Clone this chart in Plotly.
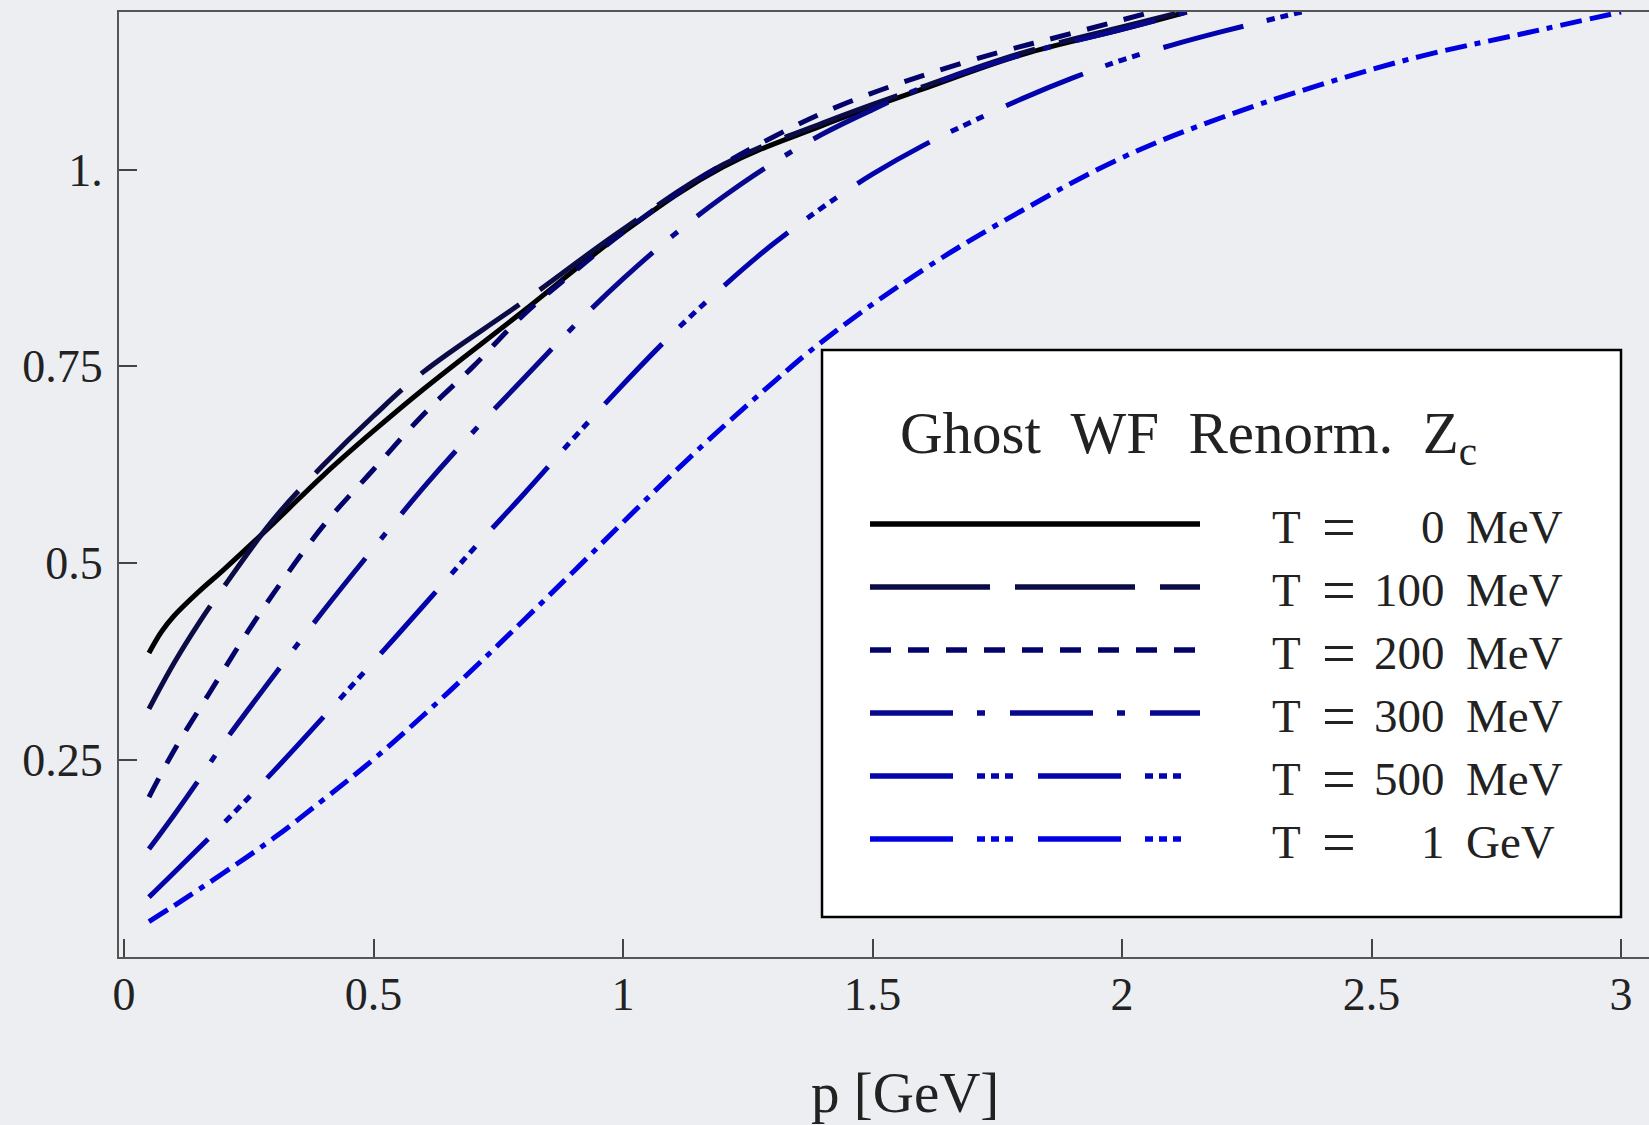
import plotly.graph_objects as go

# ---------------- data ----------------
p_T0 = [0.05, 0.075, 0.1, 0.15, 0.2, 0.3, 0.4, 0.5, 0.6, 0.8, 1.0, 1.2, 1.4, 1.6, 1.8, 2.0, 2.13]
z_T0 = [0.386, 0.413, 0.433, 0.464, 0.492, 0.551, 0.612, 0.668, 0.721, 0.820, 0.920, 1.003, 1.056, 1.102, 1.146, 1.178, 1.200]

p_T100 = [0.05, 0.1, 0.15, 0.2, 0.3, 0.4, 0.5, 0.6, 0.8, 1.0, 1.2, 1.4, 1.6, 1.8, 2.0, 2.12]
z_T100 = [0.315, 0.373, 0.424, 0.470, 0.556, 0.625, 0.687, 0.743, 0.832, 0.924, 1.006, 1.059, 1.105, 1.148, 1.181, 1.200]

p_T200 = [0.05, 0.1, 0.17, 0.25, 0.3, 0.4, 0.5, 0.6, 0.7, 0.8, 0.9, 1.0, 1.15, 1.3, 1.45, 1.7, 1.9, 2.06]
z_T200 = [0.203, 0.262, 0.334, 0.415, 0.462, 0.548, 0.619, 0.689, 0.750, 0.815, 0.869, 0.920, 0.987, 1.041, 1.085, 1.139, 1.173, 1.200]

p_T300 = [0.05, 0.1, 0.15, 0.2, 0.3, 0.4, 0.5, 0.6, 0.7, 0.8, 0.9, 1.0, 1.1, 1.2, 1.3, 1.4, 1.5, 1.6, 1.8, 2.0, 2.13]
z_T300 = [0.137, 0.180, 0.225, 0.272, 0.357, 0.440, 0.519, 0.596, 0.667, 0.734, 0.800, 0.861, 0.916, 0.965, 1.008, 1.045, 1.076, 1.104, 1.146, 1.178, 1.200]

p_T500 = [0.05, 0.1, 0.2, 0.3, 0.4, 0.5, 0.6, 0.7, 0.8, 0.9, 1.0, 1.1, 1.2, 1.3, 1.4, 1.5, 1.6, 1.7, 1.8, 1.9, 2.0, 2.1, 2.2, 2.36]
z_T500 = [0.076, 0.107, 0.170, 0.236, 0.305, 0.375, 0.446, 0.518, 0.587, 0.658, 0.727, 0.792, 0.851, 0.905, 0.952, 0.994, 1.030, 1.061, 1.090, 1.116, 1.139, 1.158, 1.175, 1.200]

p_T1000 = [0.05, 0.1, 0.2, 0.3, 0.4, 0.5, 0.6, 0.7, 0.8, 0.9, 1.0, 1.1, 1.2, 1.3, 1.4, 1.6, 1.8, 2.0, 2.2, 2.4, 2.6, 2.8, 3.0]
z_T1000 = [0.045, 0.065, 0.107, 0.151, 0.200, 0.251, 0.307, 0.366, 0.427, 0.489, 0.552, 0.614, 0.673, 0.729, 0.782, 0.872, 0.948, 1.015, 1.066, 1.108, 1.144, 1.172, 1.200]

temps_num = ["0", "100", "200", "300", "500", "1"]
temps_unit = ["MeV", "MeV", "MeV", "MeV", "MeV", "GeV"]

x_ticks = [0, 0.5, 1, 1.5, 2, 2.5, 3]
x_ticklabels = ["0", "0.5", "1", "1.5", "2", "2.5", "3"]
y_ticks = [0.25, 0.5, 0.75, 1.0]
y_ticklabels = ["0.25", "0.5", "0.75", "1."]

legend_title = "Ghost\u2002WF\u2002Renorm.\u2002Z<sub>c</sub>"
x_title = "p [GeV]"

# ---------------- styles ----------------
series = [
    (p_T0, z_T0, "#000000", "solid", "solid"),
    (p_T100, z_T100, "#0b0b45", "120px,25px", "120px,25px"),
    (p_T200, z_T200, "#03036a", "21px,17px", "21px,17px"),
    (p_T300, z_T300, "#08088f", "83px,24px,8px,25px", "83px,24px,8px,25px"),
    (p_T500, z_T500, "#0303ad", "83px,24px,8px,6px,8px,6px,8px,25px", "83px,24px,8px,6px,8px,6px,8px,25px"),
    (p_T1000, z_T1000, "#0000e0", "22px,8px,22px,8px,6px,8px", "83px,24px,8px,6px,8px,6px,8px,25px"),
]

FONT = "Liberation Serif, Times New Roman, serif"
TXT = "#222222"
W, H = 1649, 1125
L, R, T, B = 119, 0, 12, 168
PW, PH = W - L - R, H - T - B


def px(X):
    return (X - L) / PW


def py(Y):
    return (H - B - Y) / PH


fig = go.Figure()
for p, z, col, dash, _ in series:
    fig.add_trace(go.Scatter(x=p, y=z, mode="lines",
                             line=dict(color=col, width=5, dash=dash, shape="spline", smoothing=1.1),
                             showlegend=False, hoverinfo="skip"))

shapes = []
annotations = []

# legend box
shapes.append(dict(type="rect", xref="paper", yref="paper",
                   x0=px(822), x1=px(1621), y0=py(917), y1=py(350),
                   line=dict(color="black", width=2.5), fillcolor="white", layer="above"))

annotations.append(dict(xref="paper", yref="paper", x=px(898), y=py(437),
                        xanchor="left", yanchor="middle", showarrow=False,
                        text=legend_title, font=dict(family=FONT, size=59, color=TXT)))

row_y = [524, 587, 650, 713, 776, 839]
for i, (p, z, col, _, ldash) in enumerate(series):
    Y = row_y[i]
    shapes.append(dict(type="line", xref="paper", yref="paper",
                       x0=px(870), x1=px(1200), y0=py(Y), y1=py(Y),
                       line=dict(color=col, width=5.5, dash=ldash), layer="above"))
    ty = py(Y + 3)
    annotations.append(dict(xref="paper", yref="paper", x=px(1270), y=ty, xanchor="left", yanchor="middle",
                            showarrow=False, text="T", font=dict(family=FONT, size=47, color=TXT)))
    annotations.append(dict(xref="paper", yref="paper", x=px(1339), y=ty, xanchor="center", yanchor="middle",
                            showarrow=False, text="=", font=dict(family=FONT, size=60, color=TXT)))
    annotations.append(dict(xref="paper", yref="paper", x=px(1447), y=ty, xanchor="right", yanchor="middle",
                            showarrow=False, text=temps_num[i], font=dict(family=FONT, size=47, color=TXT)))
    annotations.append(dict(xref="paper", yref="paper", x=px(1464), y=ty, xanchor="left", yanchor="middle",
                            showarrow=False, text=temps_unit[i], font=dict(family=FONT, size=47, color=TXT)))

# x-axis title
annotations.append(dict(xref="paper", yref="paper", x=px(905), y=py(1092), xanchor="center", yanchor="middle",
                        showarrow=False, text=x_title, font=dict(family=FONT, size=57, color=TXT)))

fig.update_layout(
    width=W, height=H,
    margin=dict(l=L, r=R, t=T, b=B, pad=0),
    paper_bgcolor="#eceef2", plot_bgcolor="#eceef2",
    shapes=shapes, annotations=annotations,
    showlegend=False,
    xaxis=dict(range=[(L - 124) / 499.0, (W - 124) / 499.0], tickvals=x_ticks, ticktext=x_ticklabels,
               ticks="inside", ticklen=18, tickwidth=1.5, tickcolor="#444",
               showline=True, linecolor="#555", linewidth=2, mirror=True,
               showgrid=False, zeroline=False,
               tickfont=dict(family=FONT, size=46, color=TXT), ticklabelstandoff=-4),
    yaxis=dict(range=[0, 1.2], tickvals=y_ticks, ticktext=y_ticklabels,
               ticks="inside", ticklen=18, tickwidth=1.5, tickcolor="#444",
               showline=True, linecolor="#555", linewidth=2,
               showgrid=False, zeroline=False,
               tickfont=dict(family=FONT, size=46, color=TXT), ticklabelstandoff=5),
)

fig.write_html("out.html")
